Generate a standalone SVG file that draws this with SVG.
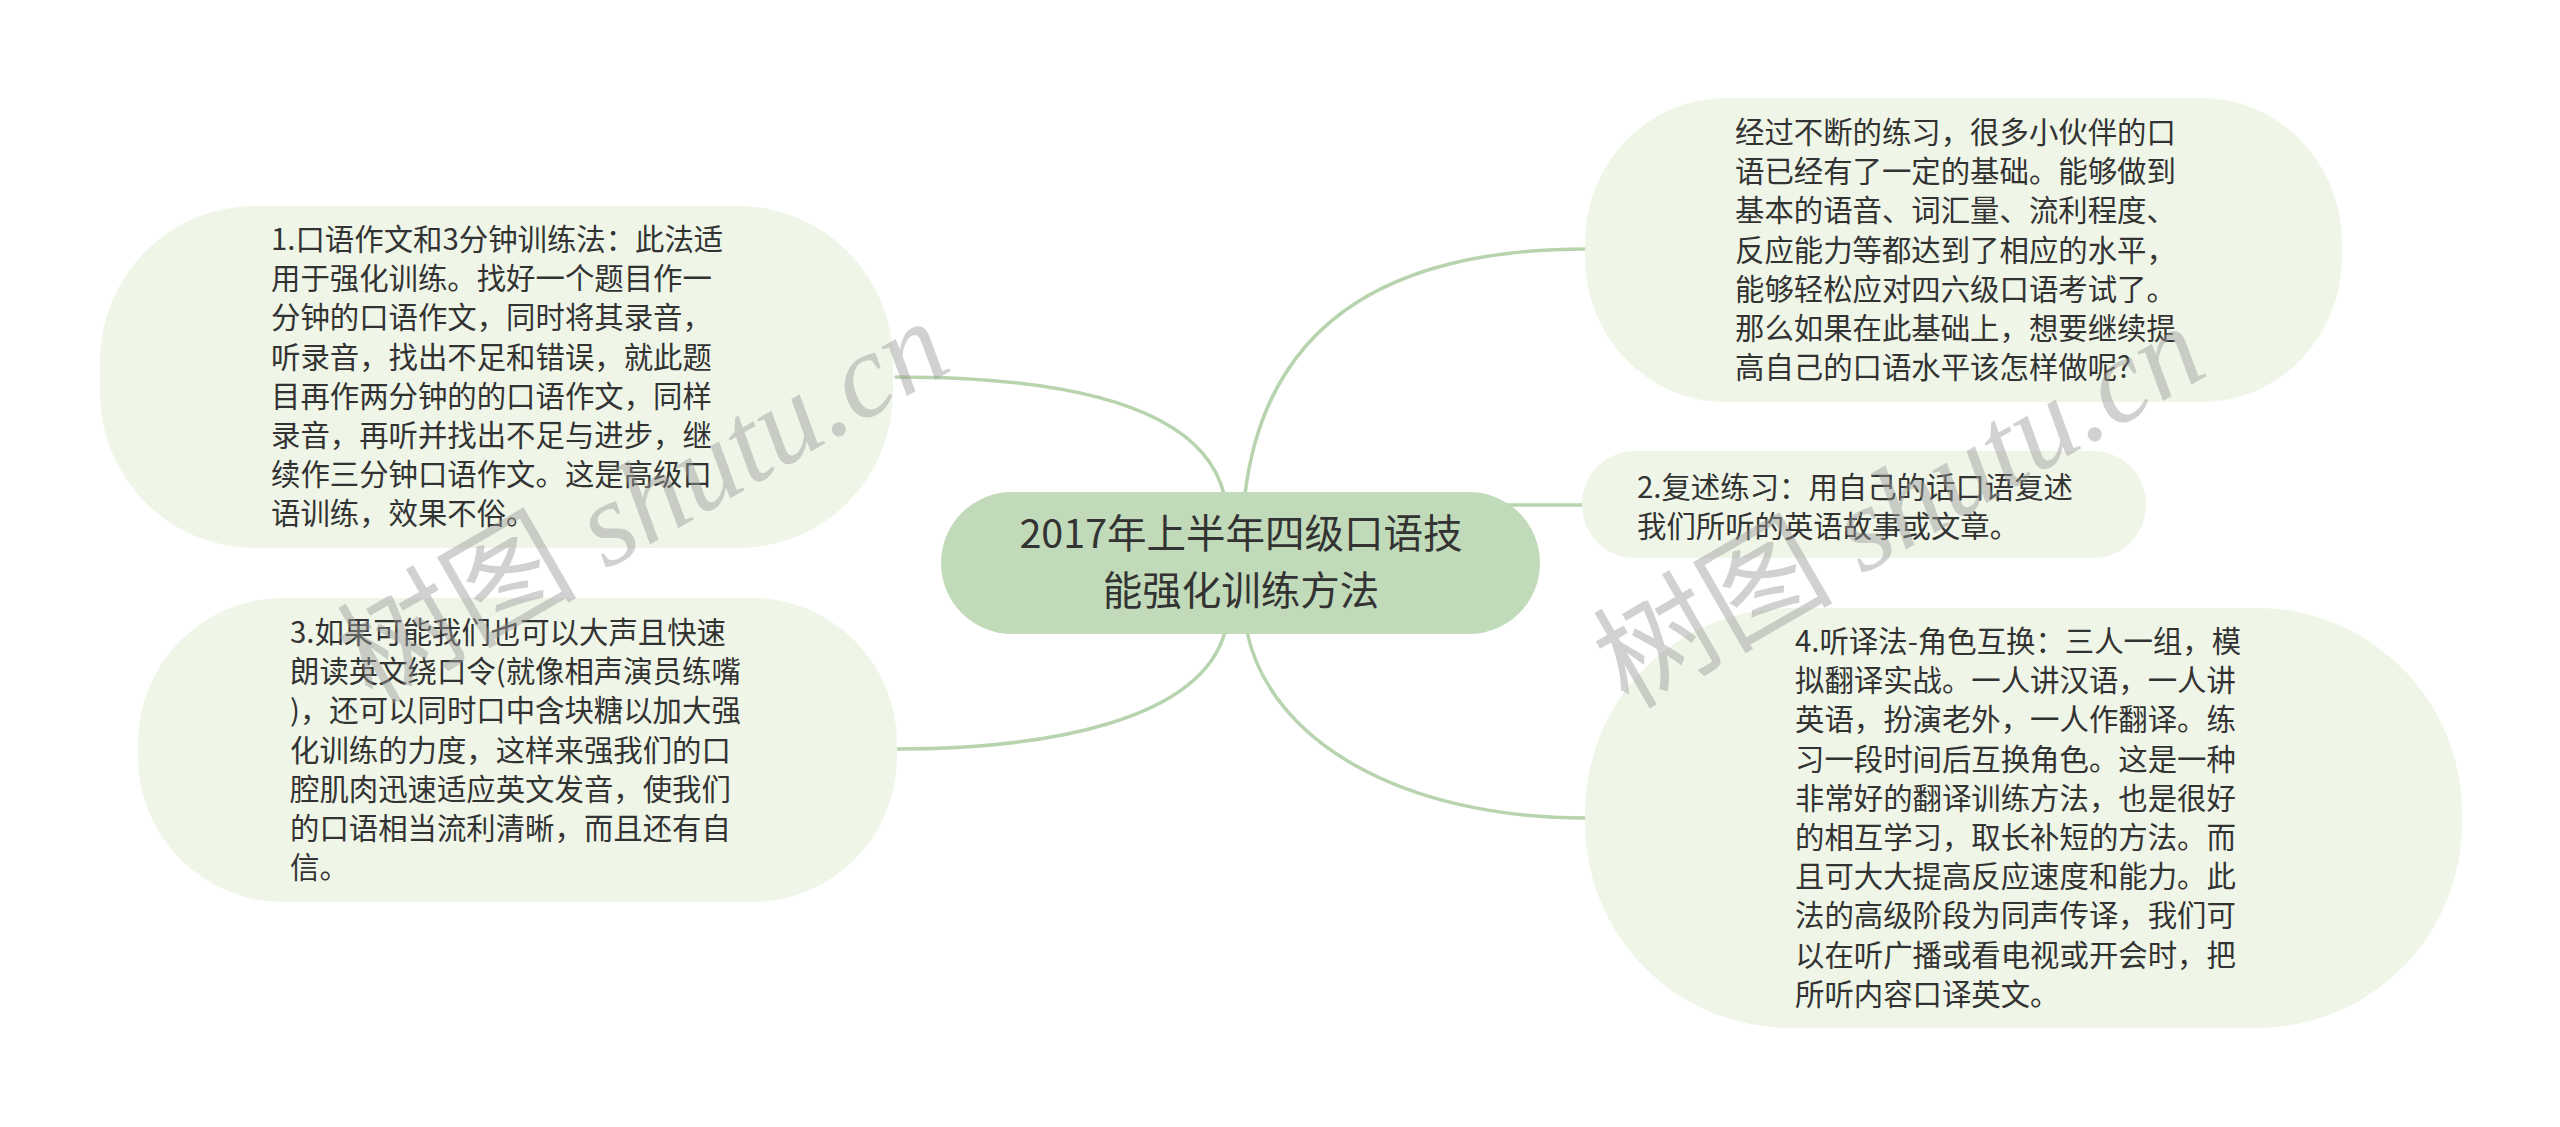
<svg xmlns="http://www.w3.org/2000/svg" width="2560" height="1127" viewBox="0 0 2560 1127">
<style>
.bg{fill:#ffffff}
.sub{fill:#eff6e8}
.root{fill:#c1dab9}
.link{fill:none;stroke:#b7d4ae;stroke-width:3.5;stroke-linecap:round}
.t{font-family:"Noto Sans CJK SC","Noto Sans",sans-serif;font-size:29.4px;fill:#333333}
.rt{font-family:"Noto Sans CJK SC","Noto Sans",sans-serif;font-size:39.5px;fill:#333333;text-anchor:middle}
.wm{font-family:"Liberation Serif","Noto Sans CJK SC",serif;font-style:italic;font-size:120px;fill:#9a9a9a;opacity:0.45}
.wmc{font-family:"Noto Sans CJK SC",sans-serif;font-style:normal}
</style>
<rect class="bg" x="0" y="0" width="2560" height="1127"/>
<g id="connectors">
<path class="link" d="M1224,494 C1200,400 1050,377 896,377"/>
<path class="link" d="M1245,494 C1265,330 1380,249 1586,249"/>
<path class="link" d="M1480,505 L1586,505"/>
<path class="link" d="M1225,632 C1200,720 1050,749 896,749"/>
<path class="link" d="M1247,632 C1270,740 1400,818 1586,818"/>
</g>
<g id="root">
<rect class="root" x="941" y="492" width="599" height="142" rx="71" ry="71"/>
<text class="rt"><tspan x="1241" y="548">2017年上半年四级口语技</tspan><tspan x="1241" y="605">能强化训练方法</tspan></text>
</g>
<g id="node1">
<rect class="sub" x="100" y="206" width="793" height="342" rx="155" ry="155"/>
<text class="t"><tspan x="271" y="250">1.口语作文和3分钟训练法：此法适</tspan><tspan x="271" y="289.2">用于强化训练。找好一个题目作一</tspan><tspan x="271" y="328.4">分钟的口语作文，同时将其录音，</tspan><tspan x="271" y="367.6">听录音，找出不足和错误，就此题</tspan><tspan x="271" y="406.8">目再作两分钟的的口语作文，同样</tspan><tspan x="271" y="446">录音，再听并找出不足与进步，继</tspan><tspan x="271" y="485.2">续作三分钟口语作文。这是高级口</tspan><tspan x="271" y="524.4">语训练，效果不俗。</tspan></text>
</g>
<g id="node3">
<rect class="sub" x="138" y="598" width="759" height="304" rx="145" ry="145"/>
<text class="t"><tspan x="290" y="643">3.如果可能我们也可以大声且快速</tspan><tspan x="290" y="682.2">朗读英文绕口令(就像相声演员练嘴</tspan><tspan x="290" y="721.4">)，还可以同时口中含块糖以加大强</tspan><tspan x="290" y="760.6">化训练的力度，这样来强我们的口</tspan><tspan x="290" y="799.8">腔肌肉迅速适应英文发音，使我们</tspan><tspan x="290" y="839">的口语相当流利清晰，而且还有自</tspan><tspan x="290" y="878.2">信。</tspan></text>
</g>
<g id="nodeTR">
<rect class="sub" x="1585" y="98" width="757" height="304" rx="140" ry="145"/>
<text class="t"><tspan x="1735" y="143">经过不断的练习，很多小伙伴的口</tspan><tspan x="1735" y="182.2">语已经有了一定的基础。能够做到</tspan><tspan x="1735" y="221.4">基本的语音、词汇量、流利程度、</tspan><tspan x="1735" y="260.6">反应能力等都达到了相应的水平，</tspan><tspan x="1735" y="299.8">能够轻松应对四六级口语考试了。</tspan><tspan x="1735" y="339">那么如果在此基础上，想要继续提</tspan><tspan x="1735" y="378.2">高自己的口语水平该怎样做呢?</tspan></text>
</g>
<g id="node2">
<rect class="sub" x="1582" y="451" width="564" height="107" rx="53" ry="53"/>
<text class="t"><tspan x="1637" y="498">2.复述练习：用自己的话口语复述</tspan><tspan x="1637" y="537.2">我们所听的英语故事或文章。</tspan></text>
</g>
<g id="node4">
<rect class="sub" x="1585" y="608" width="877" height="420" rx="205" ry="205"/>
<text class="t"><tspan x="1795" y="652">4.听译法-角色互换：三人一组，模</tspan><tspan x="1795" y="691.2">拟翻译实战。一人讲汉语，一人讲</tspan><tspan x="1795" y="730.4">英语，扮演老外，一人作翻译。练</tspan><tspan x="1795" y="769.6">习一段时间后互换角色。这是一种</tspan><tspan x="1795" y="808.8">非常好的翻译训练方法，也是很好</tspan><tspan x="1795" y="848">的相互学习，取长补短的方法。而</tspan><tspan x="1795" y="887.2">且可大大提高反应速度和能力。此</tspan><tspan x="1795" y="926.4">法的高级阶段为同声传译，我们可</tspan><tspan x="1795" y="965.6">以在听广播或看电视或开会时，把</tspan><tspan x="1795" y="1004.8">所听内容口译英文。</tspan></text>
</g>
<g id="watermarks">
<text class="wm" transform="translate(372,705) rotate(-30)"><tspan class="wmc">树图</tspan> shutu.cn</text>
<text class="wm" transform="translate(1628,710) rotate(-30)"><tspan class="wmc">树图</tspan> shutu.cn</text>
</g>
</svg>
